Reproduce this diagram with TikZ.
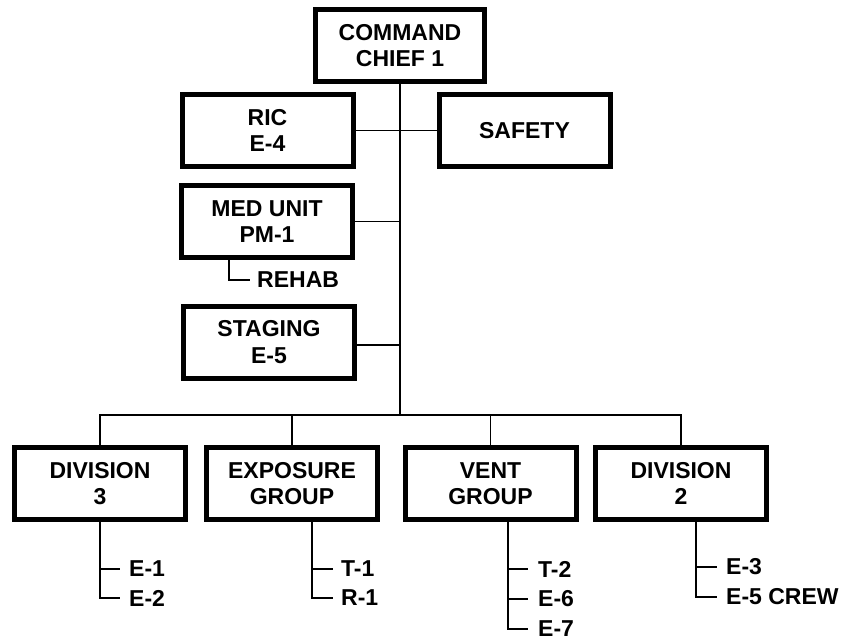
\documentclass[tikz,border=0pt]{standalone}
\usepackage{fontspec}
\setmainfont{Liberation Sans}
\begin{document}
\begin{tikzpicture}[x=1pt,y=-1pt,
  unit/.style={draw, line width=5pt, minimum width=171pt, minimum height=72pt,
    inner sep=0pt, align=center, font=\fontsize{23}{26.5}\selectfont\bfseries},
  item/.style={anchor=west, inner sep=0pt, font=\fontsize{23}{26}\selectfont\bfseries},
  link/.style={line width=1.9pt}]
\useasboundingbox (0,0) rectangle (841,641);

% command staff
\node[unit, minimum width=169pt] (cmd) at (400,45.5) {COMMAND\\CHIEF 1};
\node[unit] (ric) at (267.5,130.5) {RIC\\E-4};
\node[unit] (safety) at (524.5,130.5) {SAFETY};
\node[unit] (med) at (267,221.5) {MED UNIT\\PM-1};
\node[unit] (staging) at (269,342) {STAGING\\E-5};

% operating units
\node[unit] (div3) at (100,483.5) {DIVISION\\3};
\node[unit] (expo) at (292,483.5) {EXPOSURE\\GROUP};
\node[unit] (vent) at (490.5,483.5) {VENT\\GROUP};
\node[unit] (div2) at (681,483.5) {DIVISION\\2};

% assigned resources
\node[item] (rehab) at (257,280) {REHAB};
\node[item] (e1) at (129,569) {E-1};
\node[item] (e2) at (129,598) {E-2};
\node[item] (t1) at (341,569) {T-1};
\node[item] (r1) at (341,598) {R-1};
\node[item] (t2) at (538,569) {T-2};
\node[item] (e6) at (538,599) {E-6};
\node[item] (e7) at (538,629) {E-7};
\node[item] (e3) at (726,567) {E-3};
\node[item] (e5c) at (726,597) {E-5 CREW};

\coordinate (bus) at (400,415);

% command trunk and staff branches
\draw[link] (cmd.south) -- (cmd.south |- bus);
\draw[link] (ric.east) -- (safety.west);
\draw[link] (med.east) -- (med.east -| cmd.south);
\draw[link] ([yshift=-3pt]staging.east) -- ([yshift=-3pt]staging.east -| cmd.south);

% bus to the operating units
\draw[link] (div3.north) |- (bus) -| (div2.north);
\draw[link] (expo.north) -- (expo.north |- bus);
\draw[link] (vent.north) -- (vent.north |- bus);

% resource lists
\coordinate (mt) at ([xshift=-38pt]med.south);
\draw[link] (mt) |- ([xshift=-7pt]rehab.west);

\coordinate (d3t) at (div3.south);
\draw[link] (d3t) |- ([xshift=-9pt]e2.west);
\draw[link] (d3t |- e1.west) -- ([xshift=-9pt]e1.west);

\coordinate (ext) at ([xshift=20pt]expo.south);
\draw[link] (ext) |- ([xshift=-8pt]r1.west);
\draw[link] (ext |- t1.west) -- ([xshift=-8pt]t1.west);

\coordinate (vt) at ([xshift=17.5pt]vent.south);
\draw[link] (vt) |- ([xshift=-10pt]e7.west);
\draw[link] (vt |- t2.west) -- ([xshift=-10pt]t2.west);
\draw[link] (vt |- e6.west) -- ([xshift=-10pt]e6.west);

\coordinate (d2t) at ([xshift=15pt]div2.south);
\draw[link] (d2t) |- ([xshift=-9pt]e5c.west);
\draw[link] (d2t |- e3.west) -- ([xshift=-9pt]e3.west);
\end{tikzpicture}
\end{document}
